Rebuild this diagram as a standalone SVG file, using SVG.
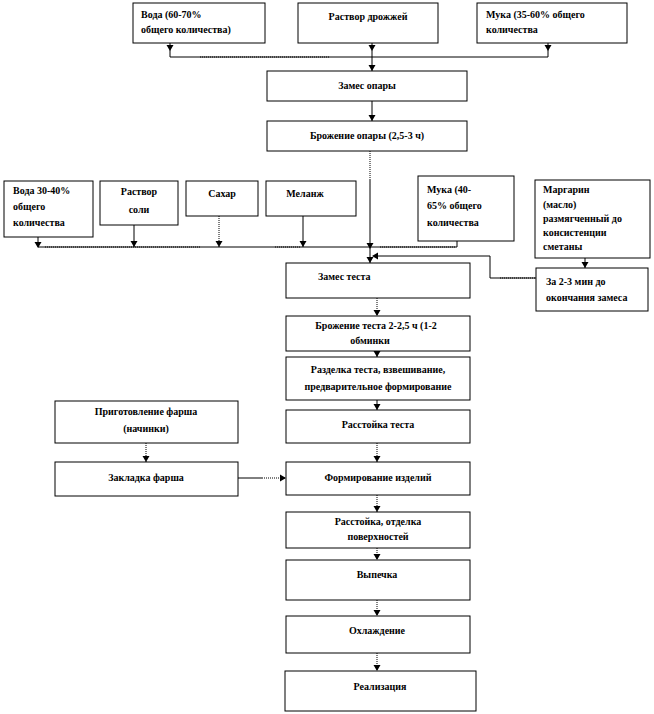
<svg xmlns="http://www.w3.org/2000/svg" xmlns:xlink="http://www.w3.org/1999/xlink" width="654" height="714" viewBox="0 0 654 714">
<style>
.box{fill:#fff;stroke:#000;stroke-width:1}
.t{font-family:'Liberation Serif','DejaVu Serif',serif;font-weight:bold;font-size:10px;fill:#000}
.c{text-anchor:middle}
.ln{fill:none;stroke:#000;stroke-width:1}
.dt{fill:none;stroke:#000;stroke-width:1;stroke-dasharray:1,1}
</style>
<defs>
<path id="ah" d="M-3.5,-6 L3.5,-6 L0,0 Z" fill="#000"/>
<path id="al" d="M6,-3.5 L6,3.5 L0,0 Z" fill="#000"/>
<path id="ar" d="M-6,-3.5 L-6,3.5 L0,0 Z" fill="#000"/>
</defs>
<rect width="654" height="714" fill="#fff"/>

<g id="connectors">
<path class="ln" d="M170,43 V57 H372"/>
<path class="dt" d="M200,57 H330"/>
<path class="ln" d="M372,43 V71"/>
<path class="ln" d="M372,57 H548 V43"/>
<use xlink:href="#ah" x="170" y="51"/>
<use xlink:href="#ah" x="372" y="51"/>
<use xlink:href="#ah" x="548" y="51"/>
<use xlink:href="#ah" x="372" y="71"/>
<path class="ln" d="M372,101 V121"/>
<use xlink:href="#ah" x="372" y="121"/>

<path class="dt" d="M370,151 V180"/>
<path class="ln" d="M370,180 V263"/>
<path class="ln" d="M38,237 V247 H457 V240"/>
<path class="dt" d="M45,247 H200"/>
<path class="dt" d="M275,247 H300"/>
<path class="dt" d="M380,247 H455"/>
<use xlink:href="#ah" x="38" y="248"/>
<path class="ln" d="M134,225 V247"/>
<use xlink:href="#ah" x="134" y="247"/>
<path class="dt" d="M219,216 V247"/>
<use xlink:href="#ah" x="219" y="247"/>
<path class="ln" d="M303,216 V247"/>
<use xlink:href="#ah" x="303" y="247"/>
<use xlink:href="#ah" x="370" y="249"/>
<use xlink:href="#ah" x="457" y="240"/>
<path class="ln" d="M536,278 H490 V256 H376"/>
<path class="dt" d="M500,278 H536"/>
<use xlink:href="#al" x="372" y="256"/>
<use xlink:href="#ah" x="370" y="263"/>
<path class="ln" d="M585,258 V268"/>
<use xlink:href="#ah" x="585" y="268"/>

<path class="dt" d="M377,298 V316"/>
<use xlink:href="#ah" x="377" y="316"/>
<path class="ln" d="M377,351 V357"/>
<use xlink:href="#ah" x="377" y="357"/>
<path class="ln" d="M377,400 V410"/>
<use xlink:href="#ah" x="377" y="410"/>
<path class="dt" d="M377,443 V462"/>
<use xlink:href="#ah" x="377" y="462"/>
<path class="dt" d="M377,495 V512"/>
<use xlink:href="#ah" x="377" y="512"/>
<path class="dt" d="M377,548 V560"/>
<use xlink:href="#ah" x="377" y="560"/>
<path class="dt" d="M377,600 V616"/>
<use xlink:href="#ah" x="377" y="616"/>
<path class="dt" d="M377,653 V671"/>
<use xlink:href="#ah" x="377" y="671"/>

<path class="dt" d="M146,443 V462"/>
<use xlink:href="#ah" x="146" y="462"/>
<path class="ln" d="M238,478 H262"/>
<path class="dt" d="M262,478 H286"/>
<use xlink:href="#ar" x="286" y="478"/>
</g>

<g id="n1"><rect class="box" x="133" y="3" width="132" height="40"/>
<text class="t" x="141" y="18">Вода (60-70%</text><text class="t" x="141" y="33">общего количества)</text></g>
<g id="n2"><rect class="box" x="298" y="3" width="140" height="40"/>
<text class="t c" x="368" y="20">Раствор  дрожжей</text></g>
<g id="n3"><rect class="box" x="477" y="3" width="150" height="40"/>
<text class="t" x="486" y="18">Мука (35-60% общего</text><text class="t" x="486" y="33">количества</text></g>

<g id="n4"><rect class="box" x="267" y="71" width="200" height="30"/>
<text class="t c" x="367" y="89">Замес  опары</text></g>
<g id="n5"><rect class="box" x="267" y="121" width="200" height="30"/>
<text class="t c" x="367" y="139">Брожение опары (2,5-3 ч)</text></g>

<g id="n6"><rect class="box" x="4" y="181" width="89" height="56"/>
<text class="t" x="13" y="194">Вода 30-40%</text><text class="t" x="13" y="210">общего</text><text class="t" x="13" y="226">количества</text></g>
<g id="n7"><rect class="box" x="100" y="181" width="78" height="44"/>
<text class="t c" x="139" y="195">Раствор</text><text class="t c" x="139" y="213">соли</text></g>
<g id="n8"><rect class="box" x="186" y="181" width="72" height="35"/>
<text class="t c" x="222" y="197">Сахар</text></g>
<g id="n9"><rect class="box" x="266" y="181" width="90" height="35"/>
<text class="t c" x="305" y="197">Меланж</text></g>
<g id="n10"><rect class="box" x="418" y="176" width="96" height="65"/>
<text class="t" x="427" y="193">Мука (40-</text><text class="t" x="427" y="209">65% общего</text><text class="t" x="427" y="226">количества</text></g>
<g id="n11"><rect class="box" x="535" y="180" width="115" height="78"/>
<text class="t" x="543" y="193">Маргарин</text><text class="t" x="543" y="208">(масло)</text><text class="t" x="543" y="222">размягченный до</text><text class="t" x="543" y="236">консистенции</text><text class="t" x="543" y="250">сметаны</text></g>
<g id="n12"><rect class="box" x="536" y="268" width="112" height="43"/>
<text class="t" x="546" y="285">За 2-3 мин до</text><text class="t" x="546" y="301">окончания замеса</text></g>

<g id="n13"><rect class="box" x="286" y="263" width="184" height="35"/>
<text class="t" x="318" y="280">Замес  теста</text></g>
<g id="n14"><rect class="box" x="286" y="316" width="184" height="35"/>
<text class="t c" x="376" y="329">Брожение теста 2-2,5 ч (1-2</text><text class="t c" x="370" y="344">обминки</text></g>
<g id="n15"><rect class="box" x="286" y="357" width="184" height="43"/>
<text class="t c" x="378" y="373">Разделка теста,  взвешивание,</text><text class="t c" x="378" y="390">предварительное формирование</text></g>
<g id="n16"><rect class="box" x="286" y="410" width="184" height="33"/>
<text class="t c" x="378" y="428">Расстойка  теста</text></g>
<g id="n17"><rect class="box" x="55" y="401" width="183" height="42"/>
<text class="t c" x="146" y="415">Приготовление фарша</text><text class="t c" x="146" y="432">(начинки)</text></g>
<g id="n18"><rect class="box" x="55" y="462" width="183" height="34"/>
<text class="t c" x="146" y="481">Закладка фарша</text></g>
<g id="n19"><rect class="box" x="286" y="462" width="184" height="33"/>
<text class="t c" x="378" y="481">Формирование  изделий</text></g>
<g id="n20"><rect class="box" x="286" y="512" width="184" height="36"/>
<text class="t c" x="378" y="525">Расстойка,  отделка</text><text class="t c" x="378" y="540">поверхностей</text></g>
<g id="n21"><rect class="box" x="286" y="560" width="184" height="40"/>
<text class="t c" x="377" y="578">Выпечка</text></g>
<g id="n22"><rect class="box" x="286" y="616" width="184" height="37"/>
<text class="t c" x="377" y="634">Охлаждение</text></g>
<g id="n23"><rect class="box" x="285" y="671" width="191" height="40"/>
<text class="t c" x="380" y="690">Реализация</text></g>
</svg>
